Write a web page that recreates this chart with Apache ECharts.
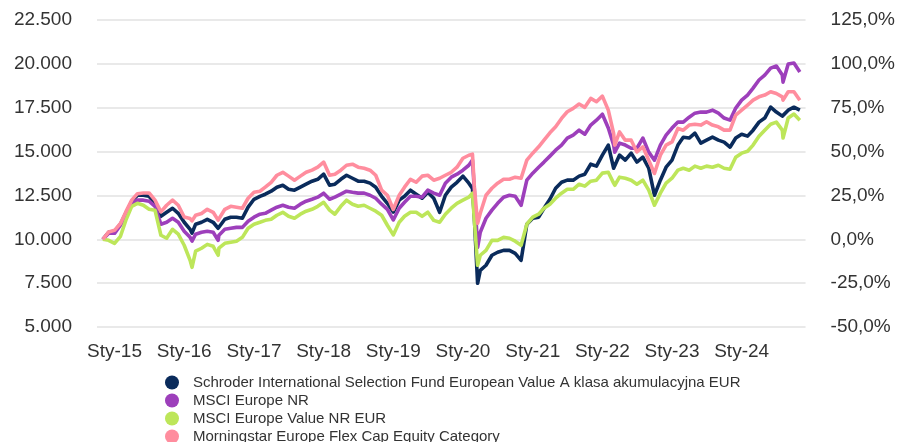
<!DOCTYPE html>
<html>
<head>
<meta charset="utf-8">
<script src="https://cdn.jsdelivr.net/npm/echarts@6/dist/echarts.min.js"></script>
<style>
html, body { margin: 0; padding: 0; background: #fff; }
#chart { width: 898px; height: 442px; }
</style>
</head>
<body>
<div id="chart"></div>
<script>
// dane: daty (miesięcznie + kilka dni szczególnych)
var dates = [
	'2014-11-01', '2014-12-01',
	'2015-01-01', '2015-02-01', '2015-03-01', '2015-04-01', '2015-05-01', '2015-06-01', '2015-07-01', '2015-08-01', '2015-09-01', '2015-10-01', '2015-11-01', '2015-12-01',
	'2016-01-01', '2016-02-01', '2016-02-11', '2016-03-01', '2016-04-01', '2016-05-01', '2016-06-01', '2016-06-27', '2016-07-01', '2016-08-01', '2016-09-01', '2016-10-01', '2016-11-01', '2016-12-01',
	'2017-01-01', '2017-02-01', '2017-03-01', '2017-04-01', '2017-05-01', '2017-06-01', '2017-07-01', '2017-08-01', '2017-09-01', '2017-10-01', '2017-11-01', '2017-12-01',
	'2018-01-01', '2018-02-01', '2018-03-01', '2018-04-01', '2018-05-01', '2018-06-01', '2018-07-01', '2018-08-01', '2018-09-01', '2018-10-01', '2018-11-01', '2018-12-01',
	'2019-01-01', '2019-02-01', '2019-03-01', '2019-04-01', '2019-05-01', '2019-06-01', '2019-07-01', '2019-08-01', '2019-09-01', '2019-10-01', '2019-11-01', '2019-12-01',
	'2020-01-01', '2020-02-01', '2020-02-20', '2020-03-01', '2020-03-18', '2020-04-01', '2020-05-01', '2020-06-01', '2020-07-01', '2020-08-01', '2020-09-01', '2020-10-01', '2020-11-01', '2020-12-01',
	'2021-01-01', '2021-02-01', '2021-03-01', '2021-04-01', '2021-05-01', '2021-06-01', '2021-07-01', '2021-08-01', '2021-09-01', '2021-10-01', '2021-11-01', '2021-12-01',
	'2022-01-01', '2022-02-01', '2022-03-01', '2022-03-07', '2022-04-01', '2022-05-01', '2022-06-01', '2022-07-01', '2022-08-01', '2022-09-01', '2022-10-01', '2022-11-01', '2022-12-01',
	'2023-01-01', '2023-02-01', '2023-03-01', '2023-04-01', '2023-05-01', '2023-06-01', '2023-07-01', '2023-08-01', '2023-09-01', '2023-10-01', '2023-11-01', '2023-12-01',
	'2024-01-01', '2024-02-01', '2024-03-01', '2024-04-01', '2024-05-01', '2024-06-01', '2024-07-01', '2024-08-01', '2024-08-05', '2024-09-01', '2024-10-01', '2024-11-01'
];

var schroder = [
	10000, 10400,
	10460, 10860, 11480, 12170, 12510, 12510, 12450, 12050, 11310, 11540, 11770, 11480,
	10970, 10570, 10350, 10860, 10970, 11140, 10970, 10630, 10740, 11140, 11260, 11260, 11200, 11830,
	12280, 12450, 12570, 12740, 12970, 13080, 12850, 12800, 12970, 13140, 13310, 13420,
	13710, 13080, 13140, 13420, 13650, 13480, 13310, 13310, 13200, 12970, 12450, 12050,
	11550, 12230, 12450, 12800, 12570, 12340, 12680, 12340, 11540, 12510, 12970, 13250,
	13600, 13200, 12900, 11200, 7490, 8230, 8520, 9090, 9260, 9370, 9370, 9200, 8800, 10860,
	11200, 11260, 11770, 12280, 12910, 13250, 13370, 13370, 13600, 13710, 14280, 14170,
	14800, 15370, 14050, 13940, 14800, 14510, 14910, 14400, 14680, 14050, 12510, 13370, 14110,
	14510, 15370, 15820, 15770, 16050, 15480, 15650, 15820, 15650, 15540, 15250, 15770,
	15990, 15880, 16220, 16680, 16910, 17530, 17250, 17020, 16960, 17360, 17530, 17360
];

var msciEurope = [
	10000, 10340,
	10340, 10800, 11430, 12050, 12230, 12230, 12170, 11880, 10860, 10970, 11200, 10970,
	10460, 10110, 9900, 10290, 10400, 10460, 10400, 9940, 10230, 10570, 10630, 10680, 10680, 11030,
	11260, 11430, 11480, 11660, 11830, 11940, 11830, 11770, 12000, 12170, 12280, 12400,
	12630, 12280, 12400, 12570, 12740, 12680, 12630, 12630, 12510, 12340, 12000, 11710,
	11100, 11770, 12110, 12450, 12450, 12400, 12800, 12630, 12510, 13200, 13540, 13710,
	13940, 14220, 14510, 12800, 9540, 10400, 11200, 11660, 12050, 12400, 12510, 12450, 11940, 13370,
	13770, 14110, 14400, 14740, 15080, 15370, 15770, 15940, 16220, 15990, 16510, 16790,
	17130, 16340, 15370, 14970, 15480, 15370, 15190, 15190, 15770, 14970, 14510, 15370, 15940,
	16340, 16680, 16680, 16960, 17190, 17250, 17250, 17360, 17190, 16910, 16790, 17480,
	17930, 18220, 18620, 19080, 19360, 19760, 19880, 19360, 18960, 19990, 20050, 19530
];

var msciValue = [
	10000, 9940,
	9770, 10170, 11080, 11880, 12050, 11940, 11710, 11660, 10230, 10060, 10570, 10290,
	9660, 8800, 8400, 9320, 9490, 9710, 9600, 9090, 9490, 9770, 9830, 9890, 10110, 10630,
	10860, 10970, 11080, 11140, 11370, 11540, 11310, 11200, 11430, 11600, 11710, 11880,
	12110, 11660, 11430, 11880, 12230, 12000, 11880, 11940, 11770, 11600, 11370, 10800,
	10250, 10970, 11310, 11540, 11540, 11310, 11540, 11080, 10970, 11430, 11770, 12050,
	12230, 12400, 12630, 11080, 8520, 9090, 9370, 9940, 9940, 10110, 10060, 9890, 9660, 10860,
	11260, 11430, 11770, 12000, 12340, 12630, 12850, 12850, 13140, 13030, 13310, 13370,
	13770, 13820, 13200, 13080, 13540, 13480, 13370, 13140, 13370, 12800, 11940, 12630, 13200,
	13480, 13940, 14050, 13940, 14170, 14050, 14170, 14110, 14220, 14050, 13990, 14680,
	14910, 15020, 15370, 15880, 16220, 16560, 16680, 16220, 15770, 16910, 17140, 16790
];

var morningstar = [
	10000, 10420,
	10510, 10900, 11560, 12230, 12600, 12640, 12640, 12230, 11560, 11940, 12230, 11940,
	11270, 11180, 11050, 11370, 11470, 11710, 11540, 11090, 11200, 11710, 11880, 11830, 11770, 12340,
	12680, 12740, 12970, 13250, 13650, 13820, 13600, 13370, 13600, 13820, 13940, 14110,
	14400, 13650, 13710, 13940, 14220, 14280, 14110, 14050, 13940, 13650, 12800, 12510,
	11700, 12510, 12970, 13420, 13250, 13600, 13650, 13370, 13480, 13650, 13820, 14110,
	14620, 14790, 14850, 13000, 10910, 11480, 12510, 12910, 13200, 13420, 13420, 13540, 13480, 14510,
	14910, 15270, 15650, 16070, 16410, 16890, 17270, 17460, 17710, 17520, 18030, 17840,
	18160, 17360, 16030, 15370, 16120, 15650, 15650, 14980, 15270, 14510, 13750, 14800, 15370,
	15550, 16320, 16220, 16510, 16560, 16510, 16700, 16510, 16410, 16220, 16220, 17080,
	17360, 17650, 17930, 18120, 18220, 18410, 18310, 18120, 17930, 18410, 18410, 17930
];

var seriesNames = [
	'Schroder International Selection Fund European Value A klasa akumulacyjna EUR',
	'MSCI Europe NR',
	'MSCI Europe Value NR EUR',
	'Morningstar Europe Flex Cap Equity Category'
];
var seriesValues = [schroder, msciEurope, msciValue, morningstar];
var seriesColors = ['#0a2b5b', '#9d3fbb', '#bde65a', '#ff8d9e'];

var monthShort = 'Sty';
var FONT = 'Liberation Sans, Arial, sans-serif';
var YEAR = 365 * 24 * 3600 * 1000;

function pairs(values) {
	var out = [];
	for (var i = 0; i < dates.length; i++) {
		out.push([dates[i], values[i]]);
	}
	return out;
}

var series = [];
for (var s = 0; s < seriesNames.length; s++) {
	series.push({
		name : seriesNames[s],
		type : 'line',
		symbol : 'none',
		smooth : false,
		color : seriesColors[s],
		lineStyle : { width : 3.6, color : seriesColors[s], join : 'round' },
		data : pairs(seriesValues[s])
	});
}

var myChart = echarts.init(document.getElementById('chart'));
var option = {
	animation : false,
	textStyle : { fontFamily : FONT },
	grid : { left : 97, right : 91, top : 20, bottom : 115 },
	legend : {
		orient : 'vertical',
		left : 160,
		top : 370,
		height : 90,
		icon : 'circle',
		itemWidth : 32,
		itemHeight : 14,
		itemGap : 3,
		selectedMode : false,
		textStyle : { fontSize : 15, color : '#333', fontFamily : FONT },
		data : seriesNames
	},
	xAxis : {
		type : 'time',
		min : new Date(2014, 9, 1).getTime(),
		max : new Date(2024, 11, 1).getTime(),
		splitNumber : 10,
		minInterval : YEAR,
		maxInterval : YEAR,
		axisLine : { show : false },
		axisTick : { show : false },
		splitLine : { show : false },
		axisLabel : {
			color : '#333',
			fontSize : 19,
			margin : 15,
			fontFamily : FONT,
			hideOverlap : false,
			formatter : function (value) {
				var d = new Date(value);
				if (d.getMonth() !== 0 || d.getDate() !== 1) {
					return '';
				}
				return monthShort + '-' + String(d.getFullYear()).slice(2);
			}
		}
	},
	yAxis : [ {
		type : 'value',
		position : 'left',
		min : 5000,
		max : 22500,
		interval : 2500,
		axisLine : { show : false },
		axisTick : { show : false },
		splitLine : { lineStyle : { color : '#e2e2e2', width : 1.5 } },
		axisLabel : {
			color : '#333',
			fontSize : 19,
			margin : 25,
			fontFamily : FONT,
			formatter : function (v) {
				return String(v).replace(/\B(?=(\d{3})+(?!\d))/g, '.');
			}
		}
	}, {
		type : 'value',
		position : 'right',
		min : -50,
		max : 125,
		interval : 25,
		axisLine : { show : false },
		axisTick : { show : false },
		splitLine : { show : false },
		axisLabel : {
			color : '#333',
			fontSize : 19,
			margin : 25,
			fontFamily : FONT,
			formatter : function (v) {
				return v.toFixed(1).replace('.', ',') + '%';
			}
		}
	} ],
	series : series
};
myChart.setOption(option);
</script>
</body>
</html>
